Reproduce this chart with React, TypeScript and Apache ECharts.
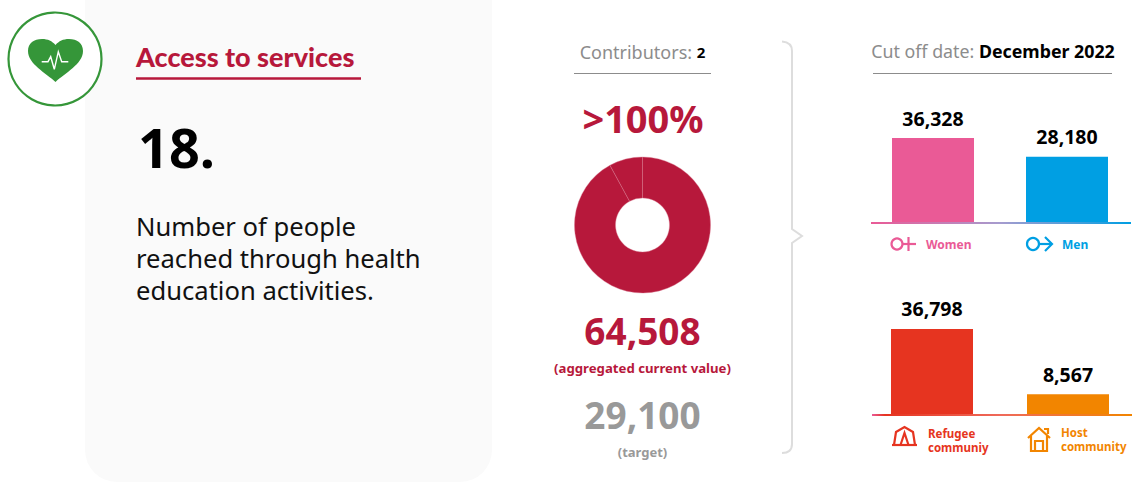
import React, { useEffect, useRef } from "react";
import * as echarts from "echarts";

const genderCategories = ["Women", "Men"];
const genderValues = [36328, 28180];
const communityCategories = ["Refugee\ncommuniy", "Host\ncommunity"];
const communityValues = [36798, 8567];
const contributionValues = [59386, 5122];

const CRIMSON = "#b7183b";
const GREY = "#8c8c8c";
const GREEN = "#359639";
const genderColors = ["#ea5a96", "#009fe3"];
const communityColors = ["#e63420", "#f28500"];
const FONT = "'Noto Sans', sans-serif";

echarts.graphic.registerShape(
  "heartIcon",
  echarts.graphic.extendPath(
    "M55.5 82 C46 73 28 64 28 51 C28 43 34 39 42 39 C48 39 52 41 55.5 45 C59 41 63 39 69 39 C77 39 83 43 83 51 C83 64 65 73 55.5 82 Z",
    {}
  )
);
echarts.graphic.registerShape(
  "braceShape",
  echarts.graphic.extendPath(
    "M782 41.5 C788 42 792 45 792 51 L792 229 L802 236 L792 243 L792 444 C792 450 788 453 782 453",
    {}
  )
);

const txt = (x: number, y: number, text: string, style: any) => ({
  type: "text",
  x,
  y,
  silent: true,
  style: { text, fontFamily: FONT, verticalAlign: "middle", ...style },
});
const hline = (x1: number, x2: number, y: number, stroke: string, lineWidth = 1) => ({
  type: "line",
  silent: true,
  shape: { x1, y1: y, x2, y2: y },
  style: { stroke, lineWidth },
});
const poly = (points: number[][], stroke: string, lineWidth = 2) => ({
  type: "polyline",
  silent: true,
  shape: { points },
  style: { stroke, lineWidth, fill: "none" },
});
const baseline = (x: number, y: number, width: number, stops: any[]) => ({
  type: "rect",
  silent: true,
  z: 5,
  shape: { x, y, width, height: 2 },
  style: { fill: new echarts.graphic.LinearGradient(0, 0, 1, 0, stops) },
});

const barSeries = (index: number, values: number[], colors: string[]) => ({
  type: "bar",
  xAxisIndex: index,
  yAxisIndex: index,
  barWidth: 82,
  z: 6,
  data: values.map((value, i) => ({ value, itemStyle: { color: colors[i] } })),
  label: {
    show: true,
    position: "top",
    distance: 10,
    color: "#000",
    fontFamily: FONT,
    fontWeight: "bold",
    fontSize: 19.5,
    formatter: (p: any) => Number(p.value).toLocaleString("en-US"),
  },
});

export default function App() {
  const ref = useRef<HTMLDivElement>(null);
  useEffect(() => {
    const chart = echarts.init(ref.current!, null, { renderer: "svg" });
    chart.setOption({
      animation: false,
      backgroundColor: "#fff",
      grid: [
        { left: 866, top: 122, width: 268, height: 100, outerBoundsMode: "none" },
        { left: 864, top: 314, width: 272, height: 100, outerBoundsMode: "none" },
      ],
      xAxis: [
        { gridIndex: 0, type: "category", data: genderCategories, show: false },
        { gridIndex: 1, type: "category", data: communityCategories, show: false },
      ],
      yAxis: [
        { gridIndex: 0, type: "value", min: 0, max: 43250, show: false },
        { gridIndex: 1, type: "value", min: 0, max: 43250, show: false },
      ],
      series: [
        barSeries(0, genderValues, genderColors),
        barSeries(1, communityValues, communityColors),
        {
          type: "pie",
          center: [642.5, 225],
          radius: [27, 68],
          startAngle: 90,
          silent: true,
          label: { show: false },
          labelLine: { show: false },
          itemStyle: { color: CRIMSON, borderColor: "#d9788f", borderWidth: 0.4 },
          data: contributionValues,
        },
      ],
      graphic: {
        elements: [
          { type: "rect", silent: true, shape: { x: 85, y: -30, width: 407, height: 512, r: 32 }, style: { fill: "#fafafa" } },
          { type: "circle", silent: true, shape: { cx: 55, cy: 59, r: 46.5 }, style: { fill: "#fff", stroke: GREEN, lineWidth: 2.2 } },
          { type: "heartIcon", silent: true, style: { fill: GREEN } },
          poly([[41.7, 61.7], [48, 61.7], [50.7, 56.7], [54.3, 69.3], [58.3, 51.7], [61.7, 61.7], [68.3, 61.7]], "#fff", 1.4),
          txt(136, 56, "Access to services", { fill: CRIMSON, fontSize: 27, fontWeight: 900, fontFamily: "Lato, sans-serif" }),
          hline(136, 361, 78.5, CRIMSON, 2.5),
          txt(138, 147, "18.", { fill: "#000", fontSize: 54, fontWeight: "bold" }),
          txt(136, 226, "Number of people", { fill: "#111", fontSize: 25.6 }),
          txt(136, 258, "reached through health", { fill: "#111", fontSize: 25.6 }),
          txt(136, 290, "education activities.", { fill: "#111", fontSize: 25.6 }),

          {
            type: "text",
            x: 642.5,
            y: 52,
            silent: true,
            style: {
              text: "{a|Contributors: }{b|2}",
              align: "center",
              verticalAlign: "middle",
              rich: {
                a: { fill: GREY, color: GREY, fontFamily: FONT, fontSize: 18 },
                b: { fill: "#000", color: "#000", fontFamily: FONT, fontSize: 15, fontWeight: "bold" },
              },
            },
          },
          hline(574, 711, 73.5, GREY),
          txt(643, 118, ">100%", { fill: CRIMSON, fontSize: 38, fontWeight: "bold", align: "center" }),
          txt(642.5, 330, "64,508", { fill: CRIMSON, fontSize: 37, fontWeight: "bold", align: "center" }),
          txt(642.5, 368, "(aggregated current value)", { fill: CRIMSON, fontSize: 13.2, fontWeight: "bold", align: "center" }),
          txt(642.5, 414, "29,100", { fill: "#999", fontSize: 37, fontWeight: "bold", align: "center" }),
          txt(642.5, 452, "(target)", { fill: "#999", fontSize: 13, fontWeight: "bold", align: "center" }),

          { type: "braceShape", silent: true, style: { fill: "none", stroke: "#dddddd", lineWidth: 2 } },

          {
            type: "text",
            x: 993,
            y: 51,
            silent: true,
            style: {
              text: "{a|Cut off date: }{b|December 2022}",
              align: "center",
              verticalAlign: "middle",
              rich: {
                a: { fill: GREY, color: GREY, fontFamily: FONT, fontSize: 17.8 },
                b: { fill: "#000", color: "#000", fontFamily: FONT, fontSize: 17.8, fontWeight: "bold" },
              },
            },
          },
          hline(873, 1112, 73.5, GREY),

          baseline(871, 222, 260, [
            { offset: 0, color: "#ea5a96" },
            { offset: 0.5, color: "#a59ccf" },
            { offset: 1, color: "#009fe3" },
          ]),
          baseline(872, 414, 260, [
            { offset: 0, color: "#ea5a96" },
            { offset: 0.05, color: "#e63420" },
            { offset: 0.5, color: "#ef6a5a" },
            { offset: 1, color: "#f28500" },
          ]),

          { type: "circle", silent: true, shape: { cx: 897, cy: 244, r: 5.5 }, style: { fill: "none", stroke: genderColors[0], lineWidth: 2.2 } },
          hline(903, 916, 244, genderColors[0], 2.2),
          poly([[908.5, 237], [908.5, 251]], genderColors[0], 2.2),
          txt(926, 244.5, genderCategories[0], { fill: genderColors[0], fontSize: 12, fontWeight: "bold" }),

          { type: "circle", silent: true, shape: { cx: 1033, cy: 244, r: 6 }, style: { fill: "none", stroke: genderColors[1], lineWidth: 2.2 } },
          hline(1039, 1051, 244, genderColors[1], 2.2),
          poly([[1045, 237], [1052, 244], [1045, 251]], genderColors[1], 2.2),
          txt(1062, 244.5, genderCategories[1], { fill: genderColors[1], fontSize: 12, fontWeight: "bold" }),

          poly([[892, 445], [917, 445]], communityColors[0], 2.2),
          poly([[894, 445], [896, 432], [904.5, 427], [913, 432], [915, 445]], communityColors[0], 2.2),
          poly([[900.5, 445], [904.5, 433], [908.5, 445]], communityColors[0], 2.2),
          txt(928, 440.5, communityCategories[0], { fill: communityColors[0], fontSize: 11.5, fontWeight: "bold", lineHeight: 14 }),

          poly([[1028, 438], [1039, 428], [1050, 438]], communityColors[1], 2.2),
          poly([[1044, 429], [1048, 429], [1048, 434]], communityColors[1], 2.2),
          poly([[1031, 436], [1031, 451], [1047, 451], [1047, 436]], communityColors[1], 2.2),
          poly([[1035, 451], [1035, 441], [1043, 441], [1043, 451]], communityColors[1], 2.2),
          txt(1061, 439.5, communityCategories[1], { fill: communityColors[1], fontSize: 11.5, fontWeight: "bold", lineHeight: 14 }),
        ],
      },
    });
    return () => chart.dispose();
  }, []);
  return <div ref={ref} style={{ position: "fixed", left: 0, top: 0, width: 1134, height: 482 }} />;
}
